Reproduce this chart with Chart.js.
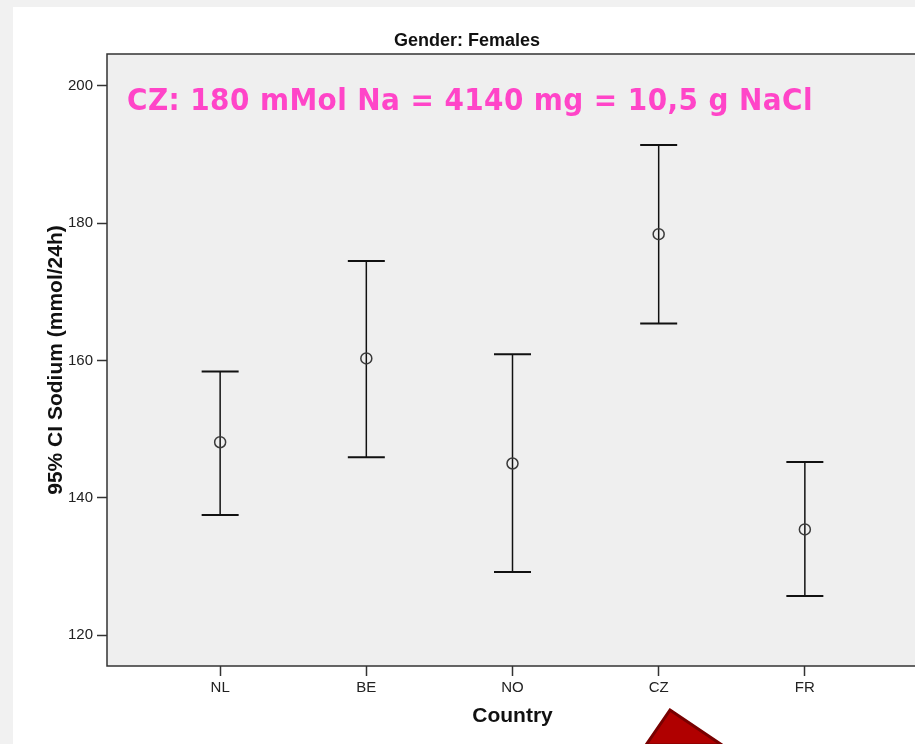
<!DOCTYPE html>
<html>
<head>
<meta charset="utf-8">
<script src="https://cdn.jsdelivr.net/npm/chart.js@4/dist/chart.umd.min.js"></script>
<style>
    html, body { margin: 0; padding: 0; overflow: hidden; }
    body { width: 915px; height: 744px; background: #f1f1f1; position: relative; }
    #wrap { position: absolute; left: 0; top: 0; width: 925px; height: 744px; }
</style>
</head>
<body>
<div id="wrap"><canvas id="sodium"></canvas></div>
<script>
const countries = ['NL', 'BE', 'NO', 'CZ', 'FR'];
const means = [148.1, 160.3, 145.0, 178.4, 135.4];
const lower = [137.5, 145.9, 129.2, 165.4, 125.7];
const upper = [158.4, 174.5, 160.9, 191.4, 145.2];
const yTicks = [120, 140, 160, 180, 200];

const $$ = id => document.getElementById(id);

// paper background, plot panel and frame
const panel = {
    id: 'panel',
    beforeDraw(chart) {
        const { ctx, chartArea: a } = chart;
        ctx.save();
        ctx.fillStyle = '#f1f1f1';
        ctx.fillRect(0, 0, chart.width, chart.height);
        ctx.fillStyle = '#ffffff';
        ctx.fillRect(13, 7, chart.width - 13, chart.height - 7);
        ctx.fillStyle = '#efefef';
        ctx.fillRect(a.left, a.top, a.right - a.left, a.bottom - a.top);
        ctx.restore();
    },
    afterDraw(chart) {
        const { ctx, chartArea: a } = chart;
        ctx.save();
        ctx.strokeStyle = '#333';
        ctx.lineWidth = 1.5;
        ctx.strokeRect(a.left, a.top, a.right - a.left, a.bottom - a.top);

        ctx.fillStyle = '#111';
        ctx.font = 'bold 18px "Liberation Sans", Arial, sans-serif';
        ctx.textAlign = 'center';
        ctx.textBaseline = 'middle';
        ctx.fillText('Gender: Females', 467, 41);

        // note on the CZ value
        const note = 'CZ: 180 mMol Na = 4140 mg = 10,5 g NaCl';
        ctx.font = 'bold 31px "DejaVu Sans Condensed", "DejaVu Sans", sans-serif';
        ctx.letterSpacing = '0px';
        const w = ctx.measureText(note).width;
        ctx.letterSpacing = ((686 - w) / note.length).toFixed(2) + 'px';
        ctx.fillStyle = '#ff45c8';
        ctx.textAlign = 'left';
        ctx.textBaseline = 'alphabetic';
        ctx.fillText(note, a.left + 20, 110);
        ctx.letterSpacing = '0px';

        // red arrow tip at the bottom
        ctx.beginPath();
        ctx.moveTo(670, 710);
        ctx.lineTo(722, 745);
        ctx.lineTo(646, 745);
        ctx.closePath();
        ctx.fillStyle = '#b00000';
        ctx.fill();
        ctx.strokeStyle = '#780000';
        ctx.lineWidth = 3;
        ctx.stroke();
        ctx.restore();
    }
};

// 95% CI whiskers
const errorBars = {
    id: 'errorBars',
    beforeDatasetsDraw(chart) {
        const { ctx, scales: { x, y } } = chart;
        ctx.save();
        ctx.strokeStyle = '#111';
        countries.forEach((c, i) => {
            const px = x.getPixelForValue(i + 1);
            const top = y.getPixelForValue(upper[i]);
            const bot = y.getPixelForValue(lower[i]);
            ctx.lineWidth = 1.5;
            ctx.beginPath();
            ctx.moveTo(px, top);
            ctx.lineTo(px, bot);
            ctx.stroke();
            ctx.lineWidth = 2;
            ctx.beginPath();
            ctx.moveTo(px - 18.5, top);
            ctx.lineTo(px + 18.5, top);
            ctx.moveTo(px - 18.5, bot);
            ctx.lineTo(px + 18.5, bot);
            ctx.stroke();
        });
        ctx.restore();
    }
};

const tickFont = { family: '"Liberation Sans", Arial, sans-serif', size: 15 };
const titleFont = { family: '"Liberation Sans", Arial, sans-serif', size: 21, weight: 'bold' };

const CreateSodiumChart = () => {
    const chartSodium = new Chart($$('sodium'), {
        type: 'scatter',
        data: {
            datasets: [{
                label: 'Mean',
                data: means.map((m, i) => ({ x: i + 1, y: m })),
                pointStyle: 'circle',
                pointRadius: 5.5,
                pointBorderWidth: 1.5,
                borderColor: '#3a3a3a',
                backgroundColor: 'rgba(0,0,0,0)'
            }]
        },
        options: {
            responsive: true,
            maintainAspectRatio: false,
            animation: false,
            layout: { padding: { left: 0, top: 54, right: 6, bottom: 0 } },
            plugins: {
                legend: { display: false },
                tooltip: { enabled: false }
            },
            scales: {
                x: {
                    type: 'linear',
                    min: 0.226,
                    max: 5.774,
                    afterBuildTicks: scale => {
                        scale.ticks = countries.map((c, i) => ({ value: i + 1 }));
                    },
                    afterFit: scale => { scale.height = 78; },
                    ticks: {
                        callback: v => countries[v - 1],
                        color: '#222',
                        font: tickFont,
                        padding: 3,
                        maxRotation: 0
                    },
                    grid: {
                        drawOnChartArea: false,
                        drawTicks: true,
                        tickLength: 10,
                        tickColor: '#333',
                        tickWidth: 1.5
                    },
                    border: { display: false },
                    title: {
                        display: true,
                        text: 'Country',
                        color: '#111',
                        font: titleFont,
                        padding: { top: 0, bottom: 15 }
                    }
                },
                y: {
                    min: 115.5,
                    max: 204.65,
                    afterBuildTicks: scale => {
                        scale.ticks = yTicks.map(v => ({ value: v }));
                    },
                    afterFit: scale => { scale.width = 107; },
                    ticks: {
                        color: '#222',
                        font: tickFont,
                        padding: 4
                    },
                    grid: {
                        drawOnChartArea: false,
                        drawTicks: true,
                        tickLength: 10,
                        tickColor: '#333',
                        tickWidth: 1.5
                    },
                    border: { display: false },
                    title: {
                        display: true,
                        text: '95% CI Sodium (mmol/24h)',
                        color: '#111',
                        font: titleFont,
                        padding: { top: 44, bottom: 0 }
                    }
                }
            }
        },
        plugins: [panel, errorBars]
    });
};

CreateSodiumChart();
</script>
</body>
</html>
